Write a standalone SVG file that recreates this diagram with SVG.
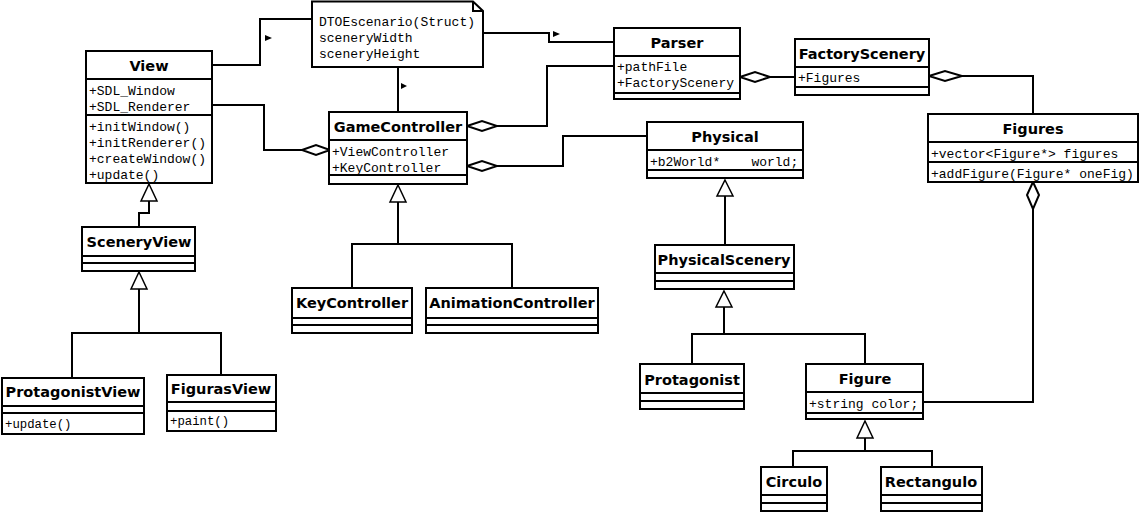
<svg xmlns="http://www.w3.org/2000/svg" width="1141" height="513" viewBox="0 0 1141 513">
<style>
.box{fill:#fff;stroke:#000;stroke-width:2}
.div{stroke:#000;stroke-width:2}
.ln{fill:none;stroke:#000;stroke-width:2}
.dia{fill:#fff;stroke:#000;stroke-width:2}
.tri{fill:#fff;stroke:#000;stroke-width:1.5}
.dir{fill:#000}
.t{font-family:"DejaVu Sans",Verdana,sans-serif;font-weight:bold;font-size:14.5px;text-anchor:middle;fill:#000}
.m{font-family:"Liberation Mono","Courier New",monospace;font-size:13px;fill:#000;white-space:pre}
.s{font-size:12.3px}
</style>
<rect width="1141" height="513" fill="#fff"/>
<g id="connectors">
<path class="ln" d="M212,65 H260 V19 H312"/>
<polygon class="dir" points="265,35 272,38 265,41"/>
<path class="ln" d="M483,33 H549 V42 H614"/>
<polygon class="dir" points="553,31 560,34 553,37"/>
<path class="ln" d="M398,67 V112"/>
<polygon class="dir" points="401,83 407,86 401,89"/>
<path class="ln" d="M212,105 H264 V150 H302"/>
<polygon class="dia" points="302,150 316,145 330,150 316,155"/>
<path class="ln" d="M497,126 H547 V66 H614"/>
<polygon class="dia" points="467,126 482,121 497,126 482,131"/>
<path class="ln" d="M497,166 H563 V136 H647"/>
<polygon class="dia" points="467,166 482,161 497,166 482,171"/>
<path class="ln" d="M770,77 H795"/>
<polygon class="dia" points="740,77 755,72 770,77 755,82"/>
<path class="ln" d="M962,76 H1033 V114"/>
<polygon class="dia" points="929,76 945,71 962,76 945,81"/>
<path class="ln" d="M1033,209 V402 H923"/>
<polygon class="dia" points="1033,182 1039,195 1033,209 1027,195"/>
<path class="ln" d="M149,201 V213 H139 V227"/>
<polygon class="tri" points="149,184 157,201 141,201"/>
<path class="ln" d="M139,289 V333 M72,378 V333 H221 V375"/>
<polygon class="tri" points="139,272 147,289 131,289"/>
<path class="ln" d="M398,202 V244 M352,288 V244 H512 V288"/>
<polygon class="tri" points="398,185 406,202 390,202"/>
<path class="ln" d="M725,196 V245"/>
<polygon class="tri" points="725,180 733,196 717,196"/>
<path class="ln" d="M724,307 V334 M692,364 V334 H865 V364"/>
<polygon class="tri" points="724,291 732,307 716,307"/>
<path class="ln" d="M865,438 V451 M793,467 V451 H932 V467"/>
<polygon class="tri" points="865,421 873,438 857,438"/>
</g>
<g id="note">
<polygon class="box" points="312,1.5 473,1.5 483,11 483,67 312,67"/>
<path class="ln" d="M473,1.5 V11 H483"/>
<text class="m" x="319" y="26">DTOEscenario(Struct)</text>
<text class="m" x="319" y="42">sceneryWidth</text>
<text class="m" x="319" y="58">sceneryHeight</text>
</g>
<g id="View">
<rect class="box" x="86" y="51" width="126" height="132"/>
<line class="div" x1="86" y1="79" x2="212" y2="79"/>
<line class="div" x1="86" y1="115" x2="212" y2="115"/>
<text class="t" x="149" y="71">View</text>
<text class="m" x="89" y="95">+SDL_Window</text>
<text class="m" x="89" y="111">+SDL_Renderer</text>
<text class="m" x="89" y="131">+initWindow()</text>
<text class="m" x="89" y="147">+initRenderer()</text>
<text class="m" x="89" y="163">+createWindow()</text>
<text class="m" x="89" y="179">+update()</text>
</g>
<g id="GameController">
<rect class="box" x="329" y="112" width="138" height="72"/>
<line class="div" x1="329" y1="140" x2="467" y2="140"/>
<line class="div" x1="329" y1="175" x2="467" y2="175"/>
<text class="t" x="398" y="132">GameController</text>
<text class="m" x="332" y="156">+ViewController</text>
<text class="m" x="332" y="172">+KeyController</text>
</g>
<g id="Parser">
<rect class="box" x="614" y="28" width="126" height="71"/>
<line class="div" x1="614" y1="56" x2="740" y2="56"/>
<line class="div" x1="614" y1="93" x2="740" y2="93"/>
<text class="t" x="677" y="48">Parser</text>
<text class="m" x="617" y="71">+pathFile</text>
<text class="m" x="617" y="87">+FactoryScenery</text>
</g>
<g id="FactoryScenery">
<rect class="box" x="795" y="39" width="134" height="56"/>
<line class="div" x1="795" y1="67" x2="929" y2="67"/>
<line class="div" x1="795" y1="87" x2="929" y2="87"/>
<text class="t" x="862" y="59">FactoryScenery</text>
<text class="m" x="798" y="82">+Figures</text>
</g>
<g id="Physical">
<rect class="box" x="647" y="122" width="156" height="56"/>
<line class="div" x1="647" y1="150" x2="803" y2="150"/>
<line class="div" x1="647" y1="170" x2="803" y2="170"/>
<text class="t" x="725" y="142">Physical</text>
<text class="m" x="650" y="166" xml:space="preserve">+b2World*    world;</text>
</g>
<g id="Figures">
<rect class="box" x="928" y="114" width="210" height="68"/>
<line class="div" x1="928" y1="142" x2="1138" y2="142"/>
<line class="div" x1="928" y1="162" x2="1138" y2="162"/>
<text class="t" x="1033" y="134">Figures</text>
<text class="m" x="931" y="158">+vector&lt;Figure*&gt; figures</text>
<text class="m" x="931" y="178">+addFigure(Figure* oneFig)</text>
</g>
<g id="SceneryView">
<rect class="box" x="82" y="227" width="113" height="44"/>
<line class="div" x1="82" y1="256" x2="195" y2="256"/>
<line class="div" x1="82" y1="263" x2="195" y2="263"/>
<text class="t" x="139" y="247">SceneryView</text>
</g>
<g id="ProtagonistView">
<rect class="box" x="2" y="378" width="142" height="56"/>
<line class="div" x1="2" y1="406" x2="144" y2="406"/>
<line class="div" x1="2" y1="413" x2="144" y2="413"/>
<text class="t" x="73" y="397">ProtagonistView</text>
<text class="m s" x="5" y="428">+update()</text>
</g>
<g id="FigurasView">
<rect class="box" x="167" y="375" width="109" height="56"/>
<line class="div" x1="167" y1="402" x2="276" y2="402"/>
<line class="div" x1="167" y1="411" x2="276" y2="411"/>
<text class="t" x="221" y="394">FigurasView</text>
<text class="m s" x="170" y="425">+paint()</text>
</g>
<g id="KeyController">
<rect class="box" x="292" y="288" width="120" height="45"/>
<line class="div" x1="292" y1="318" x2="412" y2="318"/>
<line class="div" x1="292" y1="325" x2="412" y2="325"/>
<text class="t" x="352" y="308">KeyController</text>
</g>
<g id="AnimationController">
<rect class="box" x="426" y="288" width="172" height="45"/>
<line class="div" x1="426" y1="318" x2="598" y2="318"/>
<line class="div" x1="426" y1="325" x2="598" y2="325"/>
<text class="t" x="512" y="308">AnimationController</text>
</g>
<g id="PhysicalScenery">
<rect class="box" x="655" y="245" width="139" height="44"/>
<line class="div" x1="655" y1="273" x2="794" y2="273"/>
<line class="div" x1="655" y1="281" x2="794" y2="281"/>
<text class="t" x="724" y="265">PhysicalScenery</text>
</g>
<g id="Protagonist">
<rect class="box" x="640" y="364" width="104" height="45"/>
<line class="div" x1="640" y1="393" x2="744" y2="393"/>
<line class="div" x1="640" y1="401" x2="744" y2="401"/>
<text class="t" x="692" y="385">Protagonist</text>
</g>
<g id="Figure">
<rect class="box" x="806" y="364" width="117" height="55"/>
<line class="div" x1="806" y1="392" x2="923" y2="392"/>
<line class="div" x1="806" y1="413" x2="923" y2="413"/>
<text class="t" x="865" y="384">Figure</text>
<text class="m" x="809" y="408">+string color;</text>
</g>
<g id="Circulo">
<rect class="box" x="761" y="467" width="66" height="44"/>
<line class="div" x1="761" y1="495" x2="827" y2="495"/>
<line class="div" x1="761" y1="503" x2="827" y2="503"/>
<text class="t" x="794" y="487">Circulo</text>
</g>
<g id="Rectangulo">
<rect class="box" x="881" y="467" width="101" height="44"/>
<line class="div" x1="881" y1="495" x2="982" y2="495"/>
<line class="div" x1="881" y1="503" x2="982" y2="503"/>
<text class="t" x="931" y="487">Rectangulo</text>
</g>
</svg>
